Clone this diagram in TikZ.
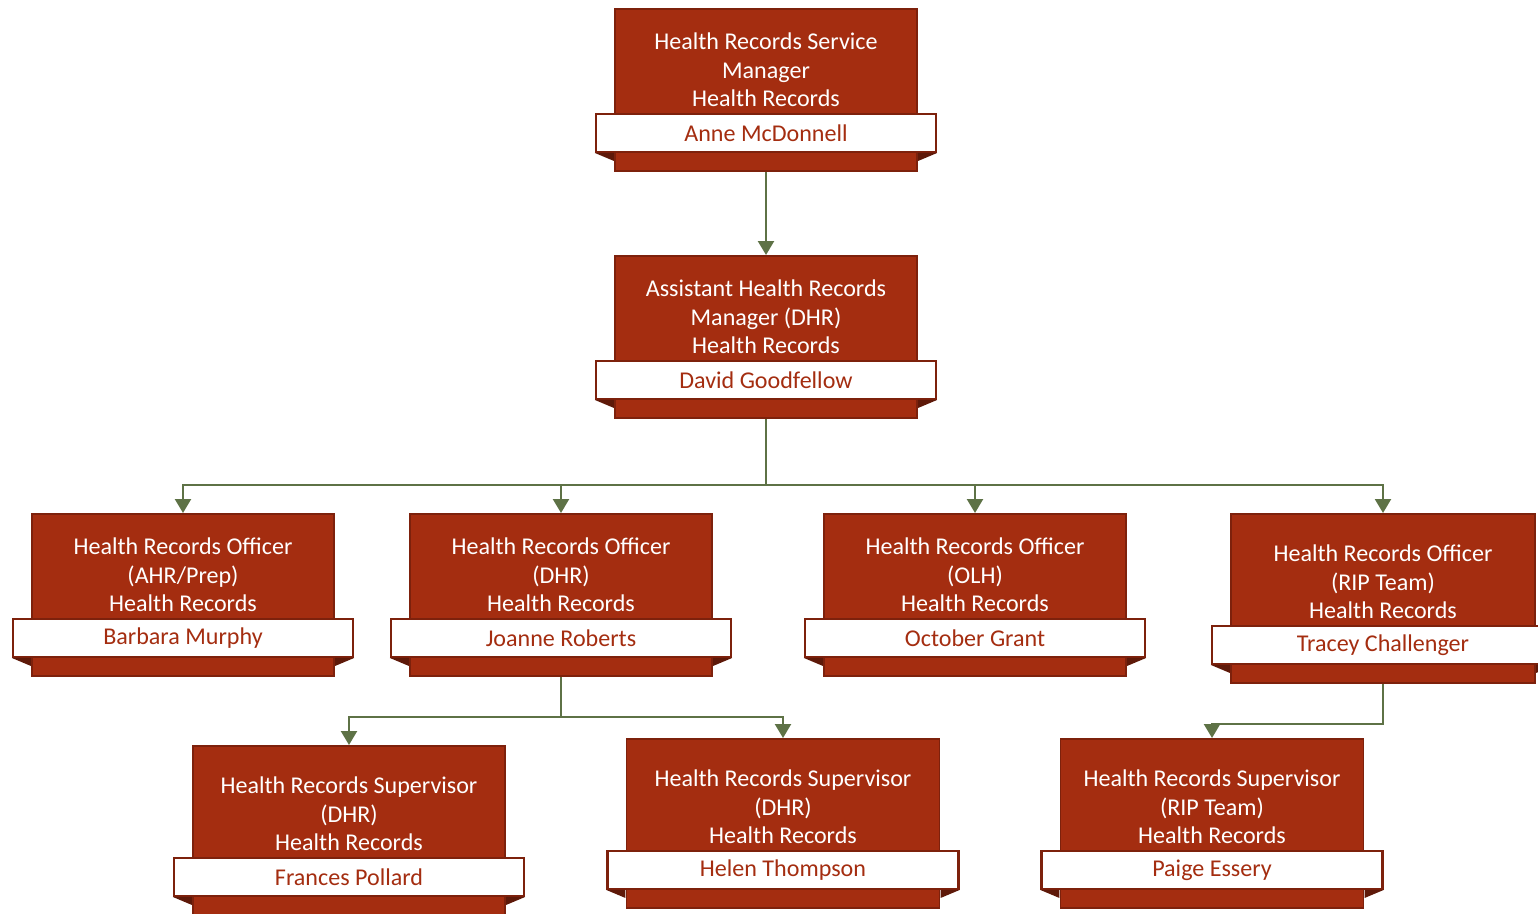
\documentclass[tikz,border=0pt]{standalone}
\usepackage{fontspec}
\setmainfont{Carlito}
\usetikzlibrary{arrows.meta,calc,positioning}
\definecolor{boxred}{RGB}{164,45,16}
\definecolor{boxedge}{RGB}{125,33,12}
\definecolor{linkgreen}{RGB}{94,114,70}
\tikzset{
 cardbox/.style={draw=boxedge, fill=boxred, line width=1.1pt, inner sep=0pt},
 cardtitle/.style={text=white, align=center, inner sep=0pt, font=\fontsize{13.7}{16.2}\selectfont},
 cardname/.style={draw=boxedge, fill=white, text=boxred, line width=1.2pt, minimum height=0.76cm, inner sep=0pt, font=\fontsize{13.7}{16}\selectfont},
 fold/.style={fill=boxedge!75!black},
 link/.style={draw=linkgreen, line width=1.3pt, -{Triangle[width=0.32cm,length=0.28cm]}},
}
\newcommand\card[7]{%
 \node[cardbox, minimum width=#4*0.02cm, minimum height=#5*0.02cm, anchor=north] (#1) at (#2,#3) {};
 \node[cardname, minimum width=(#4+38)*0.02cm] (#1n) at ($(#1.south)+(0,-39)$) {#7};
 \fill[fold] (#1n.south west) -- ++(19,0) -- ++(0,8) -- cycle;
 \fill[fold] (#1n.south east) -- ++(-19,0) -- ++(0,8) -- cycle;
 \node[cardtitle] (#1t) at ($(#1.south)+(0,-102)$) {#6};
}
\begin{document}
\begin{tikzpicture}[x=0.02cm,y=-0.02cm]
\useasboundingbox (0,0) rectangle (1538,913);
\clip (0,0) rectangle (1538,913);
\card{m}{766}{8}{302}{162}{Health Records Service\\Manager\\Health Records}{Anne McDonnell}
\card{a}{766}{255}{302}{162}{Assistant Health Records\\Manager (DHR)\\Health Records}{David Goodfellow}
\card{o1}{183}{513}{302}{162}{Health Records Officer\\(AHR/Prep)\\Health Records}{Barbara Murphy}
\card{o2}{561}{513}{302}{162}{Health Records Officer\\(DHR)\\Health Records}{Joanne Roberts}
\card{o3}{975}{513}{302}{162}{Health Records Officer\\(OLH)\\Health Records}{October Grant}
\card{o4}{1383}{513}{304}{169}{Health Records Officer\\(RIP Team)\\Health Records}{Tracey Challenger}
\card{s1}{349}{745}{312}{169}{Health Records Supervisor\\(DHR)\\Health Records}{Frances Pollard}
\card{s2}{783}{738}{313}{169}{Health Records Supervisor\\(DHR)\\Health Records}{Helen Thompson}
\card{s3}{1212}{738}{303}{169}{Health Records Supervisor\\(RIP Team)\\Health Records}{Paige Essery}
\coordinate (bus1) at (766,485);
\coordinate (bus2) at (561,717);
\coordinate (bus3) at (1383,724);
\draw[link] (m.south) -- (a.north);
\foreach \c in {o1,o2,o3,o4}
 \draw[link] (a.south) -- (bus1) -| (\c.north);
\foreach \c in {s1,s2}
 \draw[link] (o2.south) -- (bus2) -| (\c.north);
\draw[link] (o4.south) -- (bus3) -| (s3.north);
\end{tikzpicture}
\end{document}
